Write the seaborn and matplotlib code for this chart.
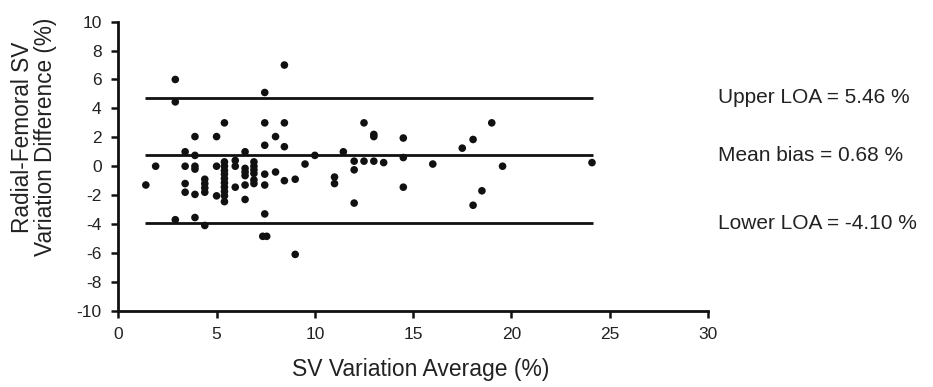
import seaborn as sns
import matplotlib.pyplot as plt
import pandas as pd

# Bland-Altman data: average of the two SV variations vs their difference
sv_average = [
    1.4, 1.9,
    2.9, 2.9, 2.9,
    3.4, 3.4, 3.4, 3.4,
    3.9, 3.9, 3.9, 3.9, 3.9, 3.9,
    4.4, 4.4, 4.4, 4.4, 4.4,
    5.0, 5.0, 5.0,
    5.4, 5.4, 5.4, 5.4, 5.4, 5.4, 5.4, 5.4, 5.4, 5.4, 5.4,
    5.95, 5.95, 5.95,
    6.45, 6.45, 6.45, 6.45, 6.45, 6.45,
    6.9, 6.9, 6.9, 6.9, 6.9, 6.9,
    7.45, 7.45, 7.45, 7.45, 7.45, 7.45, 7.35, 7.55,
    8.0, 8.0,
    8.45, 8.45, 8.45, 8.45,
    9.0, 9.0,
    9.5, 10.0,
    11.0, 11.0, 11.45,
    12.0, 12.0, 12.0,
    12.5, 12.5,
    13.0, 13.0, 13.0,
    13.5,
    14.5, 14.5, 14.5,
    16.0, 17.5, 18.05, 18.05, 18.5, 19.0, 19.55, 24.1,
]
sv_difference = [
    -1.3, 0.0,
    6.0, 4.45, -3.7,
    1.0, 0.0, -1.2, -1.8,
    2.05, 0.75, 0.0, -0.2, -1.95, -3.55,
    -0.9, -1.2, -1.5, -1.8, -4.1,
    2.05, 0.0, -2.05,
    3.0, 0.3, 0.0, -0.3, -0.55, -0.85, -1.15, -1.45, -1.75, -2.05, -2.45,
    0.4, 0.0, -1.45,
    1.0, -0.15, -0.4, -0.65, -1.3, -2.3,
    0.3, 0.0, -0.25, -0.5, -0.95, -1.2,
    5.1, 3.0, 1.45, -0.55, -1.3, -3.3, -4.85, -4.85,
    2.05, -0.4,
    7.0, 3.0, 1.35, -1.0,
    -0.9, -6.1,
    0.15, 0.75,
    -0.75, -1.2, 1.0,
    0.35, -0.25, -2.55,
    3.0, 0.35,
    2.2, 2.05, 0.35,
    0.25,
    1.95, 0.6, -1.45,
    0.15, 1.25, 1.85, -2.7, -1.7, 3.0, 0.0, 0.25,
]

# reference lines as drawn, and the values written next to them
line_levels = [4.74, 0.77, -3.95]
line_labels = ['Upper LOA = 5.46 %', 'Mean bias = 0.68 %', 'Lower LOA = -4.10 %']

df = pd.DataFrame({'avg': sv_average, 'diff': sv_difference})

sns.set_style('ticks')
plt.rcParams['font.family'] = ['Liberation Sans', 'DejaVu Sans']
plt.rcParams['axes.unicode_minus'] = False

fig = plt.figure(figsize=(9.33, 3.87), dpi=100)
ax = fig.add_axes([0.1268, 0.197, 0.632, 0.747])

sns.scatterplot(data=df, x='avg', y='diff', color='#111111', s=30,
                edgecolor='none', ax=ax, zorder=3)

x_lo, x_hi = min(sv_average), max(sv_average)
for lvl, lab in zip(line_levels, line_labels):
    ax.hlines(lvl, x_lo - 0.05, x_hi + 0.05, color='#111111', lw=2.0, zorder=2)
    ax.text(1.017, lvl, lab, transform=ax.get_yaxis_transform(),
            ha='left', va='center', fontsize=15, color='#222222', clip_on=False)

ax.set_xlim(0, 30)
ax.set_ylim(-10, 10)
ax.set_xticks(range(0, 31, 5))
ax.set_yticks(range(-10, 11, 2))
ax.tick_params(axis='both', direction='out', length=5, width=1.8,
               labelsize=12.5, pad=7, colors='#111111', labelcolor='#222222')

sns.despine(ax=ax)
for side in ['left', 'bottom']:
    ax.spines[side].set_linewidth(2.0)
    ax.spines[side].set_color('#111111')

ax.set_xlabel('SV Variation Average (%)', fontsize=16.5, color='#222222')
ax.xaxis.set_label_coords(0.513, -0.165)
ax.set_ylabel('Radial-Femoral SV\nVariation Difference (%)', fontsize=16.3,
              color='#222222', linespacing=1.0)
ax.yaxis.set_label_coords(-0.104, 0.6)

fig.savefig('out.png', dpi=100)
